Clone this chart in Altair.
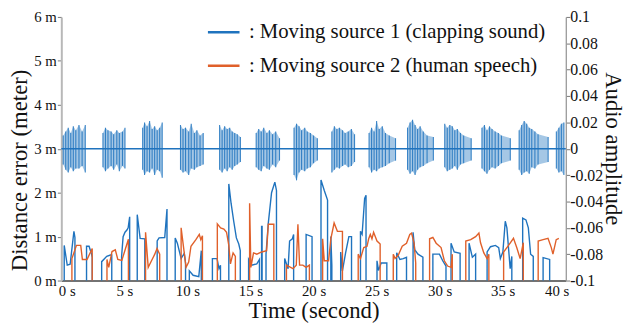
import altair as alt
import pandas as pd

SRC1 = ": Moving source 1 (clapping sound)"
SRC2 = ": Moving source 2 (human speech)"
BLUE = "#1f73be"
ORANGE = "#e0602a"
FONT = "Liberation Serif"

# ---- distance error (meter), source 1 (blue): segments of (time s, value m)
blue_segments = [
    [(0.23, 0.80), (0.47, 0.35), (0.70, 0.37), (1.00, 1.12), (1.08, 0.98)],
    [(2.00, 0.78), (2.20, 0.78), (2.40, 0.60), (2.45, 0.53)],
    [(3.20, 0.43), (3.60, 0.55), (3.90, 0.58), (4.00, 0.58)],
    [(4.78, 0.55), (4.90, 1.00), (5.05, 1.10), (5.20, 1.15), (5.30, 1.20), (5.42, 1.45)],
    [(6.02, 1.50), (6.25, 0.96), (6.62, 0.95)],
    [(7.60, 0.90), (7.75, 0.97), (8.20, 0.98), (8.38, 1.63)],
    [(9.03, 0.97), (9.20, 0.85), (9.50, 0.50), (9.75, 0.62), (9.85, 0.40)],
    [(10.15, 0.22), (10.45, 0.12), (10.90, 0.09), (11.10, 0.68)],
    [(11.98, 0.50), (12.35, 0.50), (12.50, 0.27), (12.62, 0.35)],
    [(13.28, 2.20), (13.46, 1.76), (13.67, 1.35), (13.88, 0.97), (14.07, 0.83), (14.19, 0.68)],
    [(14.85, 0.48), (15.11, 0.35), (15.50, 0.38), (15.71, 0.48)],
    [(15.88, 1.23), (15.92, 1.23)],
    [(16.23, 0.60), (16.41, 1.30), (16.67, 2.00), (16.93, 2.24), (17.06, 2.05)],
    [(17.71, 0.50), (17.98, 0.27), (18.10, 0.90), (18.32, 0.95), (18.42, 1.05)],
    [(19.41, 1.05), (19.88, 1.00)],
    [(20.59, 2.29), (20.85, 2.05), (21.11, 1.83)],
    [(21.37, 1.00), (21.45, 0.35)],
    [(22.15, 0.65), (22.29, 0.22), (22.54, 0.63), (22.80, 1.00), (23.01, 1.00)],
    [(23.72, 1.12), (23.85, 1.05), (24.05, 1.87), (24.16, 1.94)],
    [(25.03, 0.45), (25.15, 0.23), (25.36, 0.40), (25.81, 0.40)],
    [(26.59, 0.63), (26.85, 0.48), (27.11, 0.50), (27.37, 0.53)],
    [(27.89, 1.10), (28.02, 0.70), (28.28, 0.60), (28.67, 0.53)],
    [(29.46, 0.60), (29.98, 0.60), (30.24, 0.45), (30.50, 0.33)],
    [(30.90, 0.85), (31.15, 0.65), (31.62, 0.62)],
    [(32.33, 0.85), (32.59, 0.53), (32.85, 0.60)],
    [(33.76, 0.65), (34.03, 0.77), (34.42, 0.80), (34.68, 0.75), (34.81, 0.50), (35.01, 0.65),
     (35.20, 1.35), (35.33, 1.20), (35.59, 0.27), (35.72, 0.55)],
    [(36.58, 1.42), (36.84, 1.38), (37.03, 1.20), (37.21, 0.60), (37.42, 0.55)],
    [(38.20, 0.52), (38.72, 0.48)],
]

# ---- distance error (meter), source 2 (orange)
orange_segments = [
    [(0.84, 0.50), (1.20, 0.80), (1.54, 0.80), (1.67, 0.48), (2.04, 0.48), (2.45, 0.73)],
    [(3.62, 0.48), (3.76, 0.30), (4.02, 0.66), (4.28, 0.70), (4.48, 0.48), (4.80, 0.46), (5.06, 0.70), (5.32, 0.94)],
    [(6.68, 1.10), (6.89, 0.30), (7.15, 0.45), (7.41, 0.60), (7.59, 0.73), (7.80, 0.60)],
    [(9.50, 1.20), (9.89, 0.30), (10.10, 0.42), (10.28, 0.78), (10.67, 0.93), (10.94, 1.05), (11.06, 0.93), (11.19, 1.02)],
    [(12.37, 1.29), (12.63, 1.20), (12.89, 1.17), (13.10, 1.10), (13.28, 0.80), (13.41, 0.38), (13.62, 0.63), (13.80, 0.55)],
    [(14.93, 1.76), (15.03, 0.30), (15.24, 0.63), (15.50, 0.60), (15.89, 0.65), (16.28, 0.68), (16.41, 1.28), (16.85, 1.28)],
    [(17.85, 0.35), (18.37, 0.27), (18.63, 0.35), (18.76, 1.28), (18.89, 0.35), (19.15, 0.35), (19.41, 0.30), (19.67, 0.35)],
    [(20.72, 0.95), (20.85, 0.45), (21.19, 0.45), (21.37, 0.95), (21.63, 1.31), (21.89, 1.12), (22.29, 1.12)],
    [(23.54, 0.60), (23.72, 0.50), (23.98, 0.75), (24.24, 0.78), (24.37, 0.95), (24.50, 1.05), (24.63, 0.95),
     (24.76, 1.10), (25.03, 0.90), (25.28, 0.83)],
    [(26.32, 0.60), (26.46, 0.50), (26.72, 0.58), (27.03, 0.78), (27.37, 0.85), (27.63, 1.05), (27.77, 1.08),
     (27.97, 0.85), (28.10, 0.40)],
    [(29.20, 0.95), (29.46, 0.98), (29.72, 0.85), (30.11, 0.75), (30.37, 0.45), (30.63, 0.33), (30.90, 0.30), (31.00, 0.60)],
    [(32.07, 0.90), (32.46, 0.93), (32.85, 1.00), (33.11, 1.08), (33.24, 0.86), (33.50, 0.63), (33.76, 0.50), (33.90, 0.60)],
    [(35.07, 0.65), (35.46, 0.80), (35.85, 0.96), (36.11, 0.75), (36.38, 0.50), (36.63, 0.86)],
    [(37.81, 0.90), (38.20, 0.93), (38.59, 0.96), (38.85, 0.75), (38.98, 0.60), (39.24, 0.93), (39.45, 0.96)],
]
orange_last_open = True  # final orange segment does not drop to zero

# ---- clapping audio: bursts of claps (time s, upper amplitude, lower amplitude)
bursts = [
    [(0.15, .010, .012), (0.35, .013, .016), (0.55, .016, .018), (0.75, .012, .014), (0.95, .017, .017),
     (1.15, .014, .015), (1.40, .018, .015), (1.65, .013, .013), (1.90, .018, .018)],
    [(3.30, .012, .014), (3.50, .016, .017), (3.70, .014, .015), (3.95, .013, .013), (4.15, .011, .016),
     (4.40, .014, .012), (4.60, .012, .017), (4.85, .013, .013), (5.05, .016, .015)],
    [(6.45, .016, .016), (6.60, .020, .020), (6.80, .017, .017), (7.00, .021, .018), (7.20, .015, .015),
     (7.40, .017, .020), (7.60, .014, .016), (7.80, .016, .017), (8.00, .020, .022)],
    [(9.45, .018, .016), (9.65, .015, .018), (9.85, .016, .017), (10.10, .013, .020), (10.30, .019, .015),
     (10.55, .012, .016), (10.75, .014, .014), (11.00, .010, .013), (11.25, .012, .012)],
    [(12.55, .018, .016), (12.75, .014, .018), (12.95, .017, .015), (13.15, .015, .017), (13.35, .016, .014),
     (13.55, .013, .016), (13.75, .012, .013), (13.95, .011, .012), (14.20, .009, .010)],
    [(15.45, .012, .014), (15.65, .015, .016), (15.85, .013, .017), (16.05, .016, .013), (16.30, .012, .015),
     (16.50, .014, .016), (16.75, .011, .012), (17.00, .013, .014), (17.30, .008, .009)],
    [(18.45, .016, .020), (18.65, .019, .024), (18.85, .017, .018), (19.05, .014, .016), (19.30, .016, .017),
     (19.50, .013, .015), (19.75, .012, .014), (20.00, .010, .011), (20.30, .008, .009)],
    [(21.45, .013, .018), (21.65, .017, .016), (21.85, .015, .014), (22.05, .016, .015), (22.30, .014, .013),
     (22.50, .012, .012), (22.75, .013, .014), (23.00, .015, .013), (23.25, .011, .010)],
    [(24.40, .012, .014), (24.60, .016, .018), (24.80, .013, .016), (25.00, .021, .017), (25.20, .015, .015),
     (25.45, .017, .014), (25.70, .012, .013), (26.00, .010, .011), (26.50, .008, .009)],
    [(27.45, .016, .016), (27.65, .020, .019), (27.85, .022, .017), (28.05, .018, .020), (28.25, .015, .016),
     (28.45, .017, .014), (28.70, .013, .013), (29.00, .010, .011), (29.50, .009, .009)],
    [(30.40, .019, .014), (30.60, .016, .017), (30.80, .018, .016), (31.00, .017, .015), (31.20, .014, .013),
     (31.40, .015, .016), (31.65, .012, .012), (31.90, .010, .011), (32.50, .008, .009)],
    [(33.35, .016, .015), (33.55, .018, .017), (33.75, .014, .019), (33.95, .017, .016), (34.15, .015, .014),
     (34.40, .013, .015), (34.65, .012, .013), (34.90, .010, .011), (35.60, .008, .009)],
    [(36.30, .014, .016), (36.50, .018, .020), (36.70, .021, .018), (36.90, .019, .017), (37.10, .016, .019),
     (37.30, .015, .014), (37.55, .013, .015), (37.80, .011, .012), (38.60, .009, .010)],
    [(39.25, .013, .015), (39.45, .016, .018), (39.65, .019, .017), (39.85, .020, .020)],
]

x_ticks = [0, 5, 10, 15, 20, 25, 30, 35, 40]
dist_ticks = [0, 1, 2, 3, 4, 5, 6]
amp_ticks = [-0.1, -0.08, -0.06, -0.04, -0.02, 0, 0.02, 0.04, 0.06, 0.08, 0.1]

# ---- build tables
rows = []
sid = 0
for name, segs in ((SRC1, blue_segments), (SRC2, orange_segments)):
    for k, seg in enumerate(segs):
        sid += 1
        order = 0
        rows.append(dict(t=seg[0][0], v=0.0, seg=sid, series=name, o=order)); order += 1
        for t, v in seg:
            rows.append(dict(t=t, v=v, seg=sid, series=name, o=order)); order += 1
        last_open = (name == SRC2 and k == len(segs) - 1 and orange_last_open)
        if not last_open:
            rows.append(dict(t=seg[-1][0], v=0.0, seg=sid, series=name, o=order))
dist_df = pd.DataFrame(rows)

clap_rows = []
for b, burst in enumerate(bursts):
    for t, up, dn in burst:
        clap_rows.append(dict(t=t, up=up, dn=-dn, burst=b))
clap_df = pd.DataFrame(clap_rows)
base_df = pd.DataFrame([dict(t=x_ticks[0], t2=x_ticks[-1], a=0.0)])

x_axis = alt.Axis(values=x_ticks, labelExpr="datum.value + ' s'", title="Time (second)",
                  grid=False, ticks=False, domainColor="#444", domainWidth=1.5,
                  labelFont=FONT, labelFontSize=15, labelColor="#111", labelPadding=3,
                  labelFlush=True, labelFlushOffset=3,
                  titleFont=FONT, titleFontSize=23, titleFontWeight="normal", titleColor="#111",
                  titleY=30, titleBaseline="middle")
X = alt.X("t:Q", scale=alt.Scale(domain=[0, 40], nice=False, zero=False), axis=x_axis)

amp_axis = alt.Axis(orient="right", values=amp_ticks,
                    labelExpr="datum.value == 0 ? '0' : (datum.value < 0 ? '-' : '') + format(abs(datum.value), '.2~f')",
                    title="Audio amplitude", grid=False, tickSize=4, tickColor="#777",
                    domainColor="#999", domainWidth=1.3, labelPadding=0,
                    labelFont=FONT, labelFontSize=16, labelColor="#111",
                    titleFont=FONT, titleFontSize=23, titleFontWeight="normal", titleColor="#111",
                    titleAngle=90, titleX=47, titleY=133, titleBaseline="middle", titleAlign="center")
amp_scale = alt.Scale(domain=[-0.1, 0.1], nice=False, zero=False)

area = alt.Chart(clap_df).mark_area(color=BLUE, opacity=0.4, interpolate="linear").encode(
    x=X, y=alt.Y("up:Q", scale=amp_scale, axis=amp_axis), y2="dn:Q", detail="burst:N")
rules = alt.Chart(clap_df).mark_rule(color=BLUE, strokeWidth=1.1, opacity=0.85).encode(
    x=X, y=alt.Y("up:Q", scale=amp_scale, axis=amp_axis), y2="dn:Q")
base = alt.Chart(base_df).mark_rule(color=BLUE, strokeWidth=1.5).encode(
    x=alt.X("t:Q", scale=alt.Scale(domain=[0, 40], nice=False, zero=False), axis=x_axis),
    x2="t2:Q", y=alt.Y("a:Q", scale=amp_scale, axis=amp_axis))
wave = alt.layer(area, rules, base)

dist_axis = alt.Axis(orient="left", values=dist_ticks, labelExpr="datum.value + ' m'",
                     title="Distance error (meter)", grid=False, tickSize=4, tickColor="#777",
                     domainColor="#b8b8b8", domainWidth=2, labelPadding=1,
                     labelFont=FONT, labelFontSize=15, labelColor="#111",
                     titleFont=FONT, titleFontSize=23, titleFontWeight="normal", titleColor="#111",
                     titleAngle=-90, titleX=-42, titleY=155, titleBaseline="middle", titleAlign="center")

lines = alt.Chart(dist_df).mark_line(strokeWidth=1.4).encode(
    x=X,
    y=alt.Y("v:Q", scale=alt.Scale(domain=[0, 6], nice=False), axis=dist_axis),
    color=alt.Color("series:N", scale=alt.Scale(domain=[SRC1, SRC2], range=[BLUE, ORANGE]),
                    legend=alt.Legend(title=None, orient="none", legendX=147, legendY=-2,
                                      symbolType="stroke", symbolSize=1024, symbolStrokeWidth=2.5,
                                      labelFont=FONT, labelFontSize=21, labelColor="#111",
                                      labelOffset=8, rowPadding=6, padding=0, labelLimit=400)),
    detail="seg:N",
    order="o:Q",
)

chart = alt.layer(wave, lines).resolve_scale(y="independent").properties(
    width=511, height=267,
    autosize=alt.AutoSizeParams(type="none"),
    padding={"left": 54, "top": 7, "right": 63, "bottom": 45},
).configure(font=FONT).configure_axis(labelFont=FONT, titleFont=FONT).configure_legend(
    labelFont=FONT).configure_view(stroke=None)

chart.save("out.html", embed_options={"renderer": "svg", "actions": False})
